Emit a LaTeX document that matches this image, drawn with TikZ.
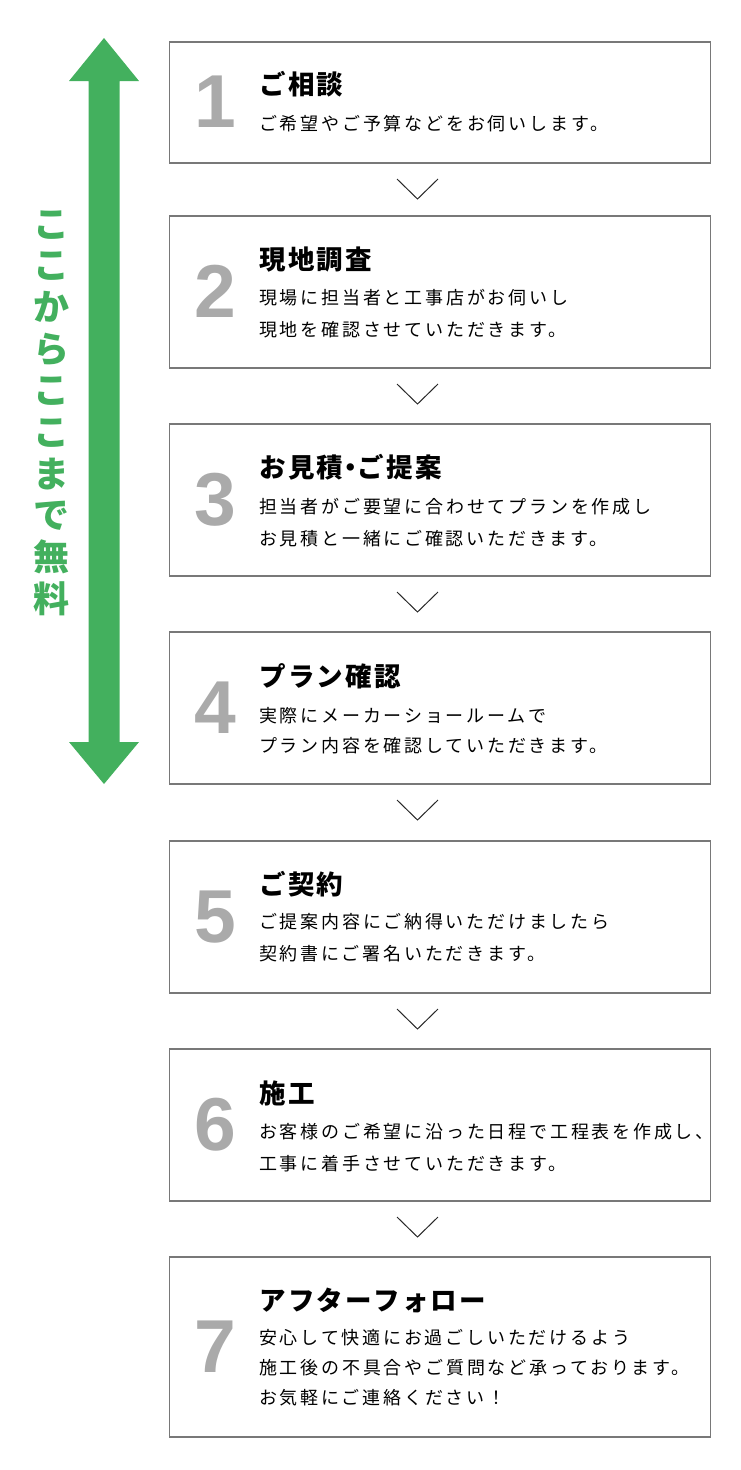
\documentclass[tikz,border=0pt]{standalone}
\usepackage{fontspec}
\usetikzlibrary{calc}
\newfontfamily\jptitle{Noto Sans CJK JP}[LetterSpace=9]
\newfontfamily\jpbody{Noto Sans CJK JP}[LetterSpace=15.5]
\newfontfamily\jpfree{Noto Sans CJK JP}
\newfontfamily\numfont{Liberation Sans}
\definecolor{grn}{RGB}{67,176,94}
\definecolor{numgray}{RGB}{170,170,170}
\definecolor{boxgray}{RGB}{120,120,120}
\definecolor{chev}{RGB}{40,40,40}
\tikzset{
  stepbox/.style={draw=boxgray, line width=1.3pt, minimum width=541, minimum height=#1, inner sep=0pt, outer sep=0pt},
  ttl/.style={anchor=west, inner sep=0pt, font=\jptitle\bfseries\fontsize{26.5}{30}\selectfont},
  body/.style={anchor=west, inner sep=0pt, font=\jpbody\fontsize{18}{20}\selectfont},
  num/.style={anchor=base, inner sep=0pt, text=numgray, font=\numfont\bfseries\fontsize{75}{80}\selectfont},
  chevron/.style={draw=chev, line width=1pt},
}
\begin{document}
\begin{tikzpicture}[x=1pt,y=-1pt]
\useasboundingbox (0,0) rectangle (741,1470);
% green double arrow
\fill[grn] (104,38) -- (139,81) -- (119.5,81) -- (119.5,742) -- (139,742) -- (104,784)
  -- (69,742) -- (88.5,742) -- (88.5,81) -- (69,81) -- cycle;
\node[inner sep=0pt, align=center, text=grn, font=\jpfree\bfseries\fontsize{36}{41.7}\selectfont] (free) at (51,413)
  {こ\\こ\\か\\ら\\こ\\こ\\ま\\で\\無\\料};
% boxes
\node[stepbox=121] (b1) at (440,102.5) {};
\node[stepbox=152] (b2) at (440,292) {};
\node[stepbox=152] (b3) at (440,500) {};
\node[stepbox=152] (b4) at (440,708) {};
\node[stepbox=152] (b5) at (440,917) {};
\node[stepbox=152] (b6) at (440,1125) {};
\node[stepbox=180] (b7) at (440,1347) {};
% numbers
\node[num] (n1) at (215,127.5) {1};
\node[num] (n2) at (215,317) {2};
\node[num] (n3) at (215,525) {3};
\node[num] (n4) at (215,733) {4};
\node[num] (n5) at (215,942) {5};
\node[num] (n6) at (215,1150) {6};
\node[num] (n7) at (215,1372) {7};
% texts
\node[ttl] (t1) at (259,84) {ご相談};
\node[body] (d1a) at (259,124) {ご希望やご予算などをお伺いします。};
\node[ttl] (t2) at (259,260) {現地調査};
\node[body] (d2a) at (259,298) {現場に担当者と工事店がお伺いし};
\node[body] (d2b) at (259,330) {現地を確認させていただきます。};
\node[ttl] (t3) at (259,467) {お見積\kern-6pt・\kern-6ptご提案};
\node[body] (d3a) at (259,507) {担当者がご要望に合わせてプランを作成し};
\node[body] (d3b) at (259,539) {お見積と一緒にご確認いただきます。};
\node[ttl] (t4) at (259,676) {プラン確認};
\node[body] (d4a) at (259,716) {実際にメーカーショールームで};
\node[body] (d4b) at (259,746) {プラン内容を確認していただきます。};
\node[ttl] (t5) at (259,884) {ご契約};
\node[body] (d5a) at (259,922) {ご提案内容にご納得いただけましたら};
\node[body] (d5b) at (259,954) {契約書にご署名いただきます。};
\node[ttl] (t6) at (259,1093) {施工};
\node[body] (d6a) at (259,1132) {お客様のご希望に沿った日程で工程表を作成し、};
\node[body] (d6b) at (259,1164) {工事に着手させていただきます。};
\node[ttl] (t7) at (259,1300) {アフターフォロー};
\node[body] (d7a) at (259,1338) {安心して快適にお過ごしいただけるよう};
\node[body] (d7b) at (259,1368) {施工後の不具合やご質問など承っております。};
\node[body] (d7c) at (259,1398) {お気軽にご連絡ください！};
% chevrons
\foreach \a in {1,...,6}{
  \draw[chevron] ($(b\a.south)+(-43,16)$) -- ($(b\a.south)+(-22.5,36)$) -- ($(b\a.south)+(-2,16)$);
}
\end{tikzpicture}
\end{document}
